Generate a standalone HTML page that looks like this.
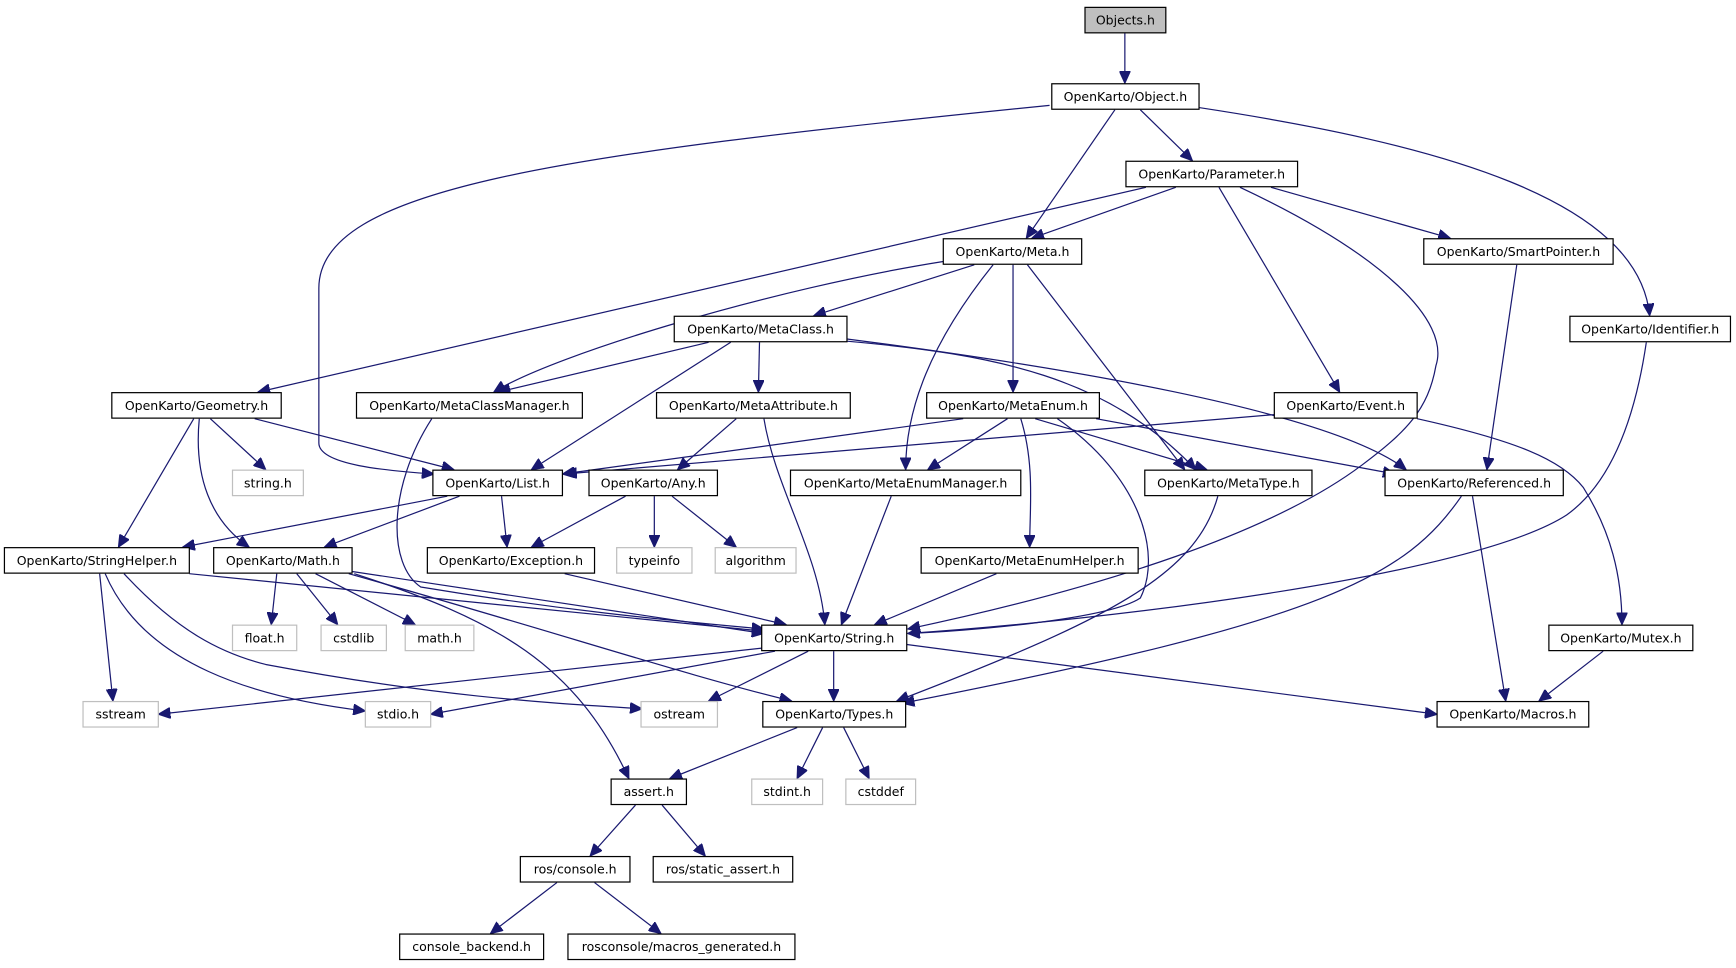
<!DOCTYPE html>
<html><head><meta charset="utf-8"><style>
html,body{margin:0;padding:0;background:#fff;}
svg{display:block;}
text{font-family:"DejaVu Sans","Liberation Sans",sans-serif;font-size:11.3px;fill:#000;text-anchor:middle;}
.e{fill:none;stroke:#191970;stroke-width:1.1;marker-end:url(#a);}
.n rect{fill:#fff;stroke:#000;stroke-width:1.1;}
.g rect{fill:#fff;stroke:#bfbfbf;stroke-width:1.1;}
</style></head><body>
<svg width="1736" height="968" viewBox="0 0 1568 874" xmlns="http://www.w3.org/2000/svg">
<defs><marker id="a" markerUnits="userSpaceOnUse" markerWidth="12" markerHeight="10" refX="11" refY="5" orient="auto"><path d="M0,0 L11,5 L0,10 z" fill="#191970" stroke="#191970"/></marker></defs>
<g>
<path class="e" d="M1016,30 L1016,75"/>
<path class="e" d="M948,95 C500,140 288,170 288,260 L288,400 C288,420 350,425 392,428"/>
<path class="e" d="M1007,99 L927,215"/>
<path class="e" d="M1030,99 L1077,145"/>
<path class="e" d="M1083,97 C1300,130 1480,180 1490,285"/>
<path class="e" d="M1062,169 L932,215"/>
<path class="e" d="M1035,169 L233,354"/>
<path class="e" d="M1148,169 L1310,215"/>
<path class="e" d="M1101,169 L1210,354"/>
<path class="e" d="M1120,169 C1250,230 1310,290 1297,330 C1290,370 1270,390 1230,420 C1150,480 1000,530 820,568"/>
<path class="e" d="M880,239 L735,285"/>
<path class="e" d="M852,236 C700,260 500,320 446,354"/>
<path class="e" d="M915,239 L915,354"/>
<path class="e" d="M897,239 C840,310 818,370 818,424"/>
<path class="e" d="M928,239 L1070,424"/>
<path class="e" d="M1370,239 L1343,424"/>
<path class="e" d="M1487,309 C1475,390 1450,440 1415,465 C1330,520 1000,560 820,572"/>
<path class="e" d="M640,309 L450,354"/>
<path class="e" d="M660,309 L480,424"/>
<path class="e" d="M686,309 L685,354"/>
<path class="e" d="M765,308 C900,320 1000,340 1080,424"/>
<path class="e" d="M765,306 C950,330 1200,370 1270,424"/>
<path class="e" d="M175,378 L107,494"/>
<path class="e" d="M180,378 C175,430 190,470 225,494"/>
<path class="e" d="M190,378 L240,424"/>
<path class="e" d="M230,378 L410,424"/>
<path class="e" d="M390,378 C350,440 350,510 380,530 C500,550 600,560 690,568"/>
<path class="e" d="M665,378 L612,424"/>
<path class="e" d="M690,378 C700,440 740,500 745,564"/>
<path class="e" d="M870,378 L508,428"/>
<path class="e" d="M910,378 L838,424"/>
<path class="e" d="M922,378 C935,420 930,460 930,494"/>
<path class="e" d="M935,378 L1090,424"/>
<path class="e" d="M990,378 L1260,428"/>
<path class="e" d="M955,378 C1030,430 1050,500 1030,540 C1000,560 870,570 820,572"/>
<path class="e" d="M1155,374 C850,400 600,420 510,428"/>
<path class="e" d="M1280,378 C1370,398 1410,415 1430,440 C1455,480 1465,520 1465,564"/>
<path class="e" d="M1100,448 C1080,520 1000,560 810,633"/>
<path class="e" d="M1320,448 C1270,520 1200,560 815,635"/>
<path class="e" d="M1330,448 L1360,633"/>
<path class="e" d="M404,448 L165,494"/>
<path class="e" d="M415,448 L293,494"/>
<path class="e" d="M453,448 L458,494"/>
<path class="e" d="M565,448 L480,494"/>
<path class="e" d="M591,448 L591,494"/>
<path class="e" d="M607,448 L665,494"/>
<path class="e" d="M805,448 L760,564"/>
<path class="e" d="M900,518 L790,564"/>
<path class="e" d="M510,518 L710,564"/>
<path class="e" d="M171,518 C400,540 600,560 690,570"/>
<path class="e" d="M90,518 L102,633"/>
<path class="e" d="M95,518 C130,600 230,630 330,642"/>
<path class="e" d="M112,518 C160,570 200,590 240,600 C400,630 500,635 580,640"/>
<path class="e" d="M250,518 L245,564"/>
<path class="e" d="M268,518 L305,564"/>
<path class="e" d="M285,518 L375,564"/>
<path class="e" d="M318,516 L690,572"/>
<path class="e" d="M315,518 C500,570 620,610 715,633"/>
<path class="e" d="M320,518 C450,560 520,600 568,703"/>
<path class="e" d="M690,585 L143,645"/>
<path class="e" d="M700,588 L389,645"/>
<path class="e" d="M730,588 L640,633"/>
<path class="e" d="M753,588 L753,633"/>
<path class="e" d="M819,582 L1298,645"/>
<path class="e" d="M1448,588 L1390,633"/>
<path class="e" d="M720,657 L605,703"/>
<path class="e" d="M743,657 L720,703"/>
<path class="e" d="M762,657 L785,703"/>
<path class="e" d="M574,727 L533,773"/>
<path class="e" d="M598,727 L637,773"/>
<path class="e" d="M503,797 L443,843"/>
<path class="e" d="M537,797 L597,843"/>
</g>
<g class="n">
<rect x="980" y="6.5" width="73" height="23" style="fill:#bfbfbf"/><text x="1016.5" y="22">Objects.h</text>
<rect x="950" y="75.5" width="133" height="23"/><text x="1016.5" y="91">OpenKarto/Object.h</text>
<rect x="1017" y="145.5" width="155" height="23"/><text x="1094.5" y="161">OpenKarto/Parameter.h</text>
<rect x="852" y="215.5" width="125" height="23"/><text x="914.5" y="231">OpenKarto/Meta.h</text>
<rect x="1286" y="215.5" width="171" height="23"/><text x="1371.5" y="231">OpenKarto/SmartPointer.h</text>
<rect x="609" y="285.5" width="156" height="23"/><text x="687" y="301">OpenKarto/MetaClass.h</text>
<rect x="1418" y="285.5" width="145" height="23"/><text x="1490.5" y="301">OpenKarto/Identifier.h</text>
<rect x="101" y="354.5" width="153" height="23"/><text x="177.5" y="370">OpenKarto/Geometry.h</text>
<rect x="322" y="354.5" width="204" height="23"/><text x="424" y="370">OpenKarto/MetaClassManager.h</text>
<rect x="593" y="354.5" width="175" height="23"/><text x="680.5" y="370">OpenKarto/MetaAttribute.h</text>
<rect x="837" y="354.5" width="156" height="23"/><text x="915" y="370">OpenKarto/MetaEnum.h</text>
<rect x="1151" y="354.5" width="129" height="23"/><text x="1215.5" y="370">OpenKarto/Event.h</text>
<rect x="391" y="424.5" width="117" height="23"/><text x="449.5" y="440">OpenKarto/List.h</text>
<rect x="532" y="424.5" width="116" height="23"/><text x="590" y="440">OpenKarto/Any.h</text>
<rect x="714" y="424.5" width="208" height="23"/><text x="818" y="440">OpenKarto/MetaEnumManager.h</text>
<rect x="1034" y="424.5" width="151" height="23"/><text x="1109.5" y="440">OpenKarto/MetaType.h</text>
<rect x="1251" y="424.5" width="161" height="23"/><text x="1331.5" y="440">OpenKarto/Referenced.h</text>
<rect x="4" y="494.5" width="167" height="23"/><text x="87.5" y="510">OpenKarto/StringHelper.h</text>
<rect x="193" y="494.5" width="125" height="23"/><text x="255.5" y="510">OpenKarto/Math.h</text>
<rect x="386" y="494.5" width="151" height="23"/><text x="461.5" y="510">OpenKarto/Exception.h</text>
<rect x="832" y="494.5" width="196" height="23"/><text x="930" y="510">OpenKarto/MetaEnumHelper.h</text>
<rect x="688" y="564.5" width="131" height="23"/><text x="753.5" y="580">OpenKarto/String.h</text>
<rect x="1399" y="564.5" width="130" height="23"/><text x="1464" y="580">OpenKarto/Mutex.h</text>
<rect x="689" y="633.5" width="129" height="23"/><text x="753.5" y="649">OpenKarto/Types.h</text>
<rect x="1298" y="633.5" width="137" height="23"/><text x="1366.5" y="649">OpenKarto/Macros.h</text>
<rect x="552" y="703.5" width="68" height="23"/><text x="586" y="719">assert.h</text>
<rect x="470" y="773.5" width="99" height="23"/><text x="519.5" y="789">ros/console.h</text>
<rect x="590" y="773.5" width="126" height="23"/><text x="653" y="789">ros/static_assert.h</text>
<rect x="361" y="843.5" width="130" height="23"/><text x="426" y="859">console_backend.h</text>
<rect x="513" y="843.5" width="205" height="23"/><text x="615.5" y="859">rosconsole/macros_generated.h</text>
</g>
<g class="g">
<rect x="210" y="424.5" width="64" height="23"/><text x="242" y="440">string.h</text>
<rect x="557" y="494.5" width="68" height="23"/><text x="591" y="510">typeinfo</text>
<rect x="646" y="494.5" width="73" height="23"/><text x="682.5" y="510">algorithm</text>
<rect x="210" y="564.5" width="58" height="23"/><text x="239" y="580">float.h</text>
<rect x="290" y="564.5" width="59" height="23"/><text x="319.5" y="580">cstdlib</text>
<rect x="366" y="564.5" width="62" height="23"/><text x="397" y="580">math.h</text>
<rect x="75" y="633.5" width="68" height="23"/><text x="109" y="649">sstream</text>
<rect x="330" y="633.5" width="59" height="23"/><text x="359.5" y="649">stdio.h</text>
<rect x="579" y="633.5" width="69" height="23"/><text x="613.5" y="649">ostream</text>
<rect x="679" y="703.5" width="64" height="23"/><text x="711" y="719">stdint.h</text>
<rect x="764" y="703.5" width="63" height="23"/><text x="795.5" y="719">cstddef</text>
</g>
</svg>
</body></html>
